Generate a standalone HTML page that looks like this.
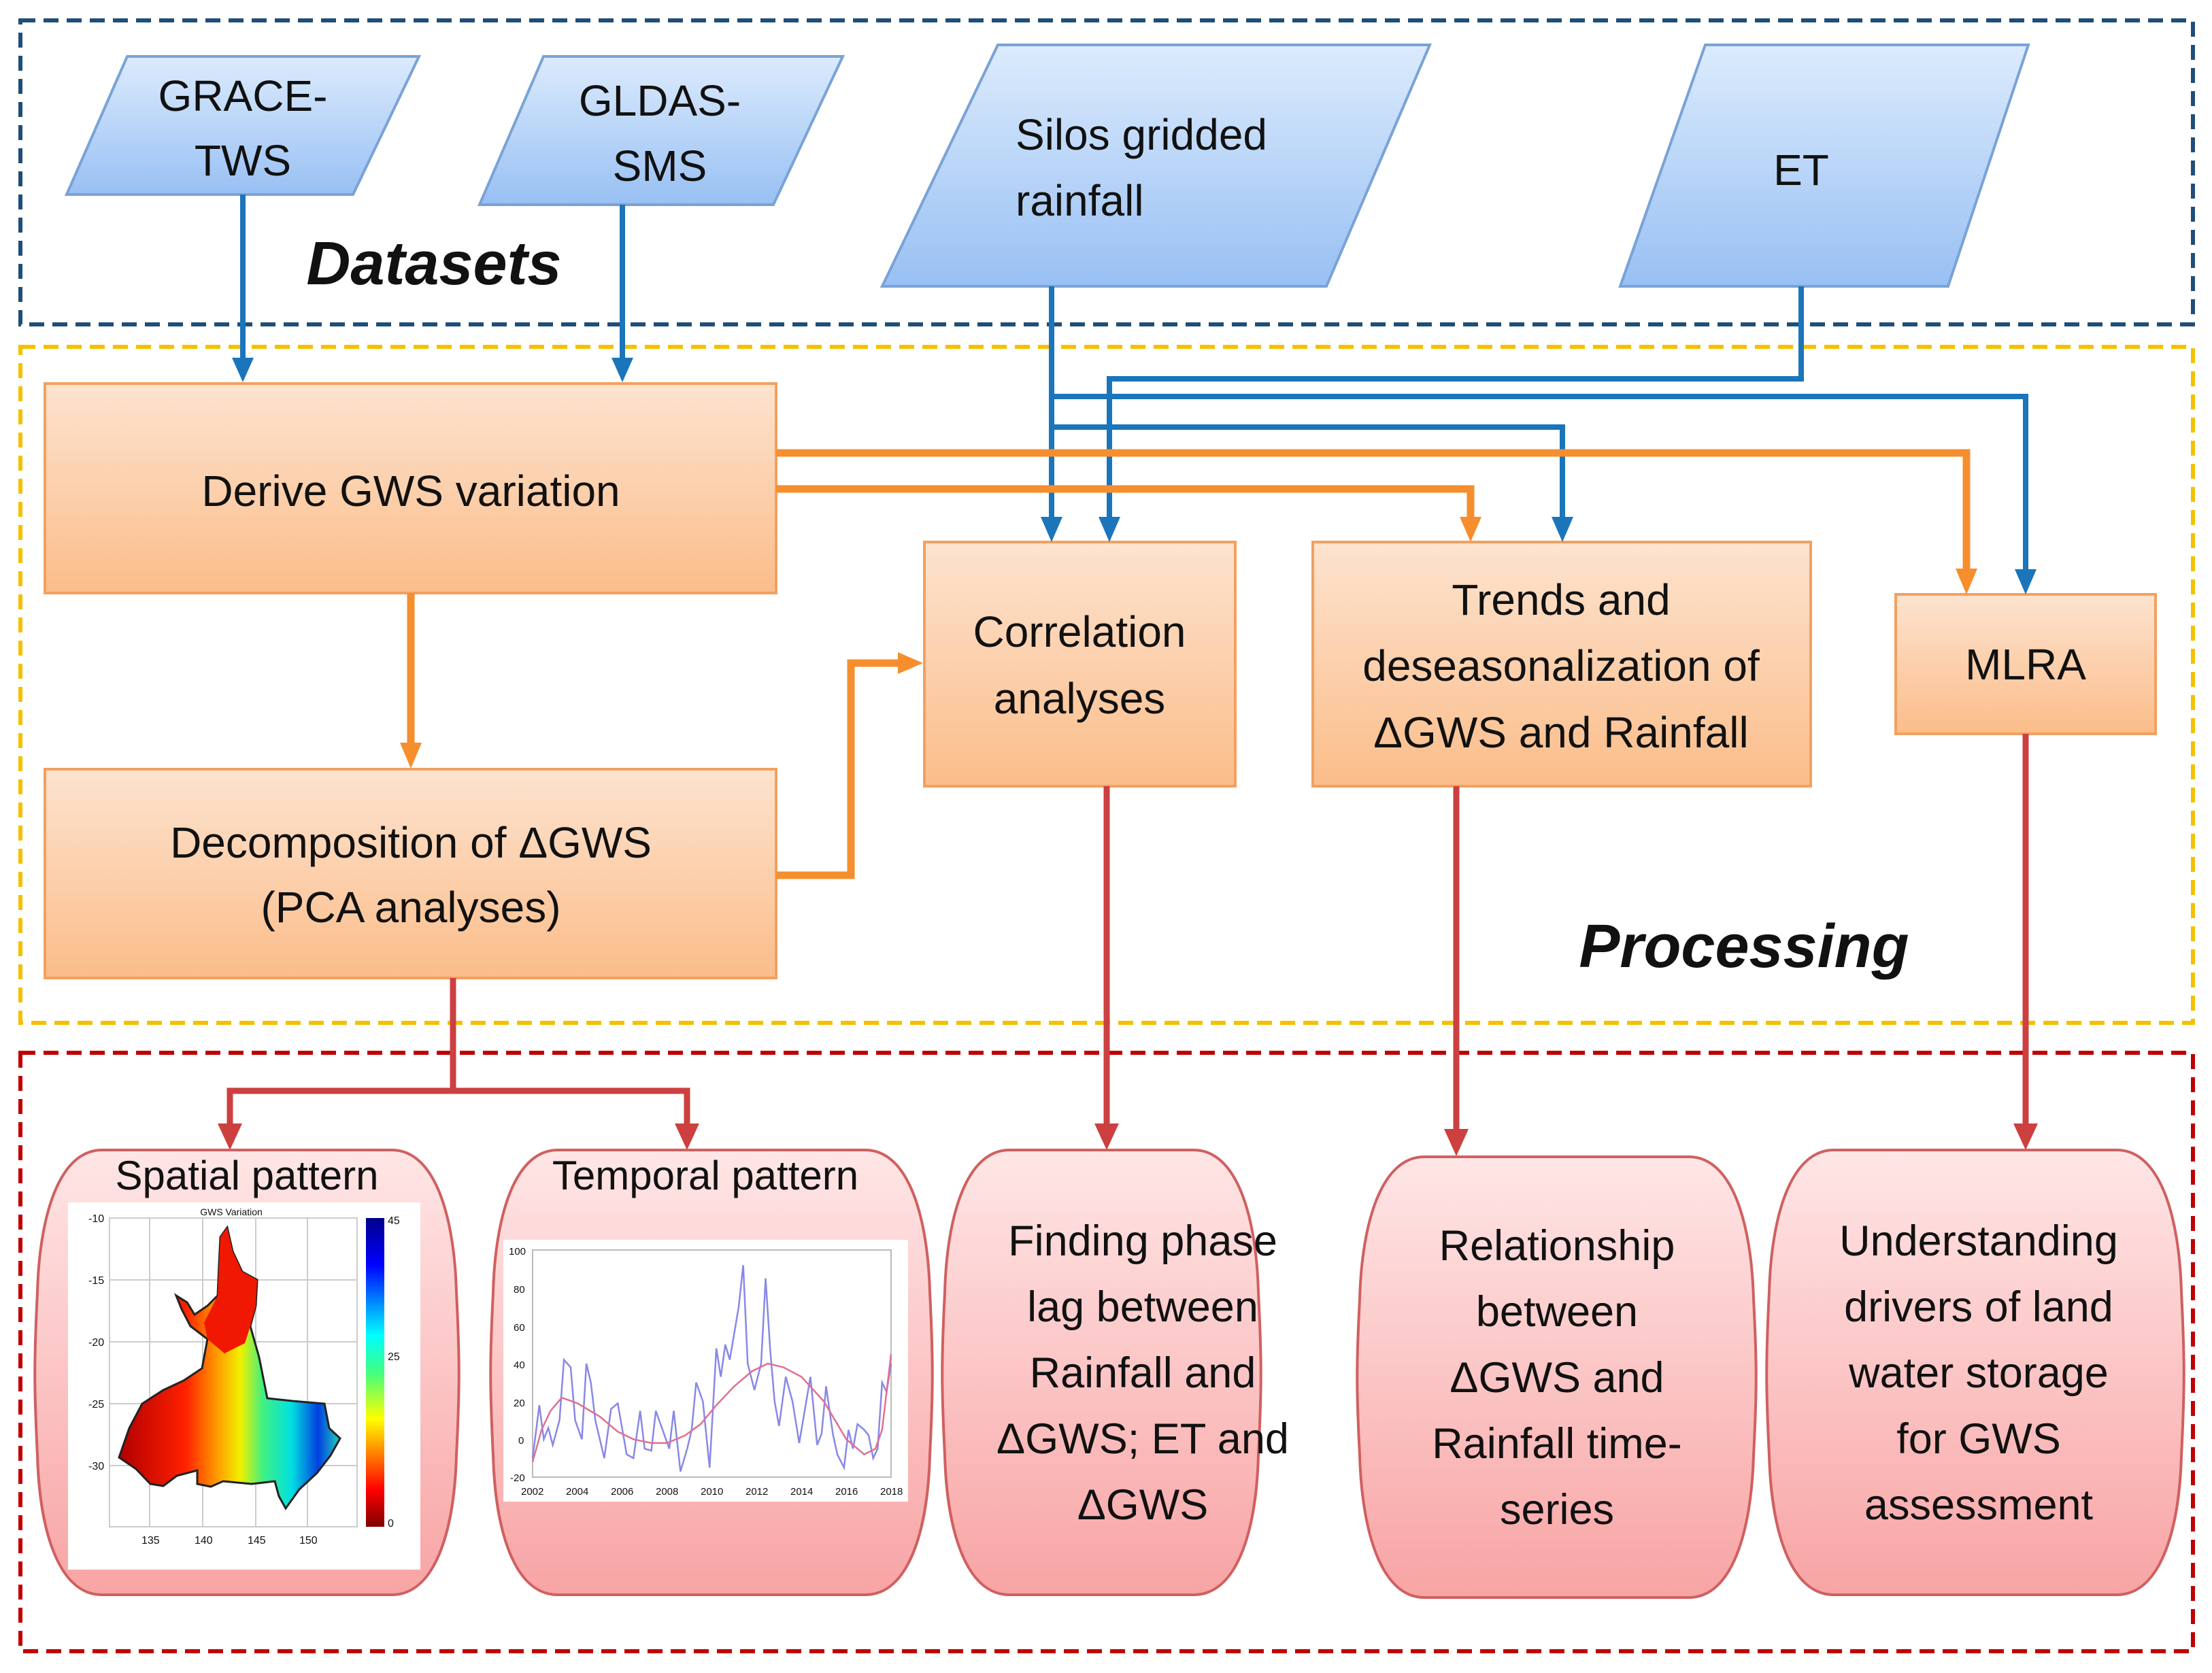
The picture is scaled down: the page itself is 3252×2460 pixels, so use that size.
<!DOCTYPE html>
<html><head><meta charset="utf-8"><style>
html,body{margin:0;padding:0;background:#fff;}
svg{display:block;}
text{font-family:"Liberation Sans",sans-serif;fill:#111;}
</style></head><body>
<svg width="3252" height="2460" viewBox="0 0 3252 2460" xmlns="http://www.w3.org/2000/svg">
<defs>
<linearGradient id="gb" x1="0" y1="0" x2="0" y2="1"><stop offset="0" stop-color="#dcebfd"/><stop offset="1" stop-color="#98c0f3"/></linearGradient>
<linearGradient id="go" x1="0" y1="0" x2="0" y2="1"><stop offset="0" stop-color="#fde3cf"/><stop offset="1" stop-color="#fbbd8a"/></linearGradient>
<linearGradient id="gp" x1="0" y1="0" x2="0" y2="1"><stop offset="0" stop-color="#ffe6e6"/><stop offset="1" stop-color="#f8a4a4"/></linearGradient>
<linearGradient id="gmap" x1="175" y1="0" x2="500" y2="0" gradientUnits="userSpaceOnUse"><stop offset="0" stop-color="#b00000"/><stop offset="0.3" stop-color="#ff2000"/><stop offset="0.45" stop-color="#ffa000"/><stop offset="0.55" stop-color="#f0f000"/><stop offset="0.65" stop-color="#40f080"/><stop offset="0.78" stop-color="#00e0e0"/><stop offset="0.9" stop-color="#0040e0"/><stop offset="1" stop-color="#20d0c0"/></linearGradient>
<linearGradient id="gcb" x1="0" y1="1" x2="0" y2="0"><stop offset="0" stop-color="#800000"/><stop offset="0.12" stop-color="#ff0000"/><stop offset="0.35" stop-color="#ffff00"/><stop offset="0.5" stop-color="#40ff80"/><stop offset="0.62" stop-color="#00ffff"/><stop offset="0.85" stop-color="#0000ff"/><stop offset="1" stop-color="#00008a"/></linearGradient>
</defs>

<rect x="30" y="30" width="3194" height="447" fill="none" stroke="#1f4e79" stroke-width="6" stroke-dasharray="22,12"/>
<rect x="30" y="510" width="3194" height="994" fill="none" stroke="#f5c000" stroke-width="6" stroke-dasharray="22,12"/>
<rect x="30" y="1548" width="3194" height="880" fill="none" stroke="#c00000" stroke-width="6" stroke-dasharray="22,12"/>

<g fill="url(#gb)" stroke="#7aa3d6" stroke-width="4">
<polygon points="187,83 616,83 519,286 98,286"/>
<polygon points="799,83 1239,83 1137,301 705,301"/>
<polygon points="1467,66 2102,66 1950,421 1297,421"/>
<polygon points="2507,66 2982,66 2864,421 2382,421"/>
</g>
<g font-size="64" text-anchor="middle">
<text x="357" y="163">GRACE-</text><text x="357" y="258">TWS</text>
<text x="970" y="170">GLDAS-</text><text x="970" y="266">SMS</text>
<text x="1493" y="220" text-anchor="start">Silos gridded</text><text x="1493" y="317" text-anchor="start">rainfall</text>
<text x="2648" y="272">ET</text>
</g>
<text x="638" y="418" font-size="90" font-weight="bold" font-style="italic" text-anchor="middle">Datasets</text>
<text x="2564" y="1422" font-size="90" font-weight="bold" font-style="italic" text-anchor="middle">Processing</text>

<g fill="url(#go)" stroke="#f2a060" stroke-width="4">
<rect x="66" y="564" width="1075" height="308"/>
<rect x="66" y="1131" width="1075" height="307"/>
<rect x="1359" y="797" width="457" height="359"/>
<rect x="1930" y="797" width="732" height="359"/>
<rect x="2787" y="874" width="382" height="205"/>
</g>
<g font-size="64" text-anchor="middle">
<text x="604" y="744">Derive GWS variation</text>
<text x="604" y="1261">Decomposition of ΔGWS</text><text x="604" y="1356">(PCA analyses)</text>
<text x="1587" y="951">Correlation</text><text x="1587" y="1049">analyses</text>
<text x="2295" y="904">Trends and</text><text x="2295" y="1001">deseasonalization of</text><text x="2295" y="1099">ΔGWS and Rainfall</text>
<text x="2978" y="999">MLRA</text>
</g>

<g fill="none" stroke="#1b75bb" stroke-width="8">
<path d="M357,286 V530"/>
<path d="M915,301 V530"/>
<path d="M1546,421 V765"/>
<path d="M2648,421 V557 H1631 V765"/>
<path d="M1546,583 H2978 V842"/>
<path d="M1546,628 H2297 V765"/>
</g>
<g fill="#1b75bb">
<polygon points="341,526 373,526 357,562"/>
<polygon points="899,526 931,526 915,562"/>
<polygon points="1530,760 1562,760 1546,797"/>
<polygon points="1615,760 1647,760 1631,797"/>
<polygon points="2281,760 2313,760 2297,797"/>
<polygon points="2962,837 2994,837 2978,874"/>
</g>

<g fill="none" stroke="#f68e2e" stroke-width="11">
<path d="M1141,666 H2891 V840"/>
<path d="M1141,719 H2162 V765"/>
<path d="M604,872 V1095"/>
<path d="M1141,1287 H1251 V975 H1325"/>
</g>
<g fill="#f68e2e">
<polygon points="2875,836 2907,836 2891,874"/>
<polygon points="2146,760 2178,760 2162,797"/>
<polygon points="588,1092 620,1092 604,1130"/>
<polygon points="1320,959 1320,991 1357,975"/>
</g>

<g fill="none" stroke="#cc4040" stroke-width="9">
<path d="M666,1438 V1604"/>
<path d="M338,1655 V1604 H1010 V1655"/>
<path d="M1627,1156 V1655"/>
<path d="M2141,1156 V1663"/>
<path d="M2978,1079 V1655"/>
</g>
<g fill="#cc4040">
<polygon points="320,1652 356,1652 338,1691"/>
<polygon points="992,1652 1028,1652 1010,1691"/>
<polygon points="1609,1652 1645,1652 1627,1691"/>
<polygon points="2123,1660 2159,1660 2141,1700"/>
<polygon points="2960,1652 2996,1652 2978,1691"/>
</g>

<g fill="url(#gp)" stroke="#d06060" stroke-width="4">
<path d="M150,1691 H576 C640,1691 668,1790 671,1900 C676,2000 676,2040 671,2140 C668,2250 640,2345 576,2345 H150 C86,2345 58,2250 55,2140 C50,2040 50,2000 55,1900 C58,1790 86,1691 150,1691 Z"/>
<path d="M820,1691 H1272 C1336,1691 1364,1790 1367,1900 C1372,2000 1372,2040 1367,2140 C1364,2250 1336,2345 1272,2345 H820 C756,2345 728,2250 725,2140 C720,2040 720,2000 725,1900 C728,1790 756,1691 820,1691 Z"/>
<path d="M1484,1691 H1755 C1819,1691 1847,1790 1850,1900 C1855,2000 1855,2040 1850,2140 C1847,2250 1819,2345 1755,2345 H1484 C1420,2345 1392,2250 1389,2140 C1384,2040 1384,2000 1389,1900 C1392,1790 1420,1691 1484,1691 Z"/>
<path d="M2094,1701 H2483 C2547,1701 2575,1800 2578,1910 C2583,2005 2583,2045 2578,2140 C2575,2250 2547,2349 2483,2349 H2094 C2030,2349 2002,2250 1999,2140 C1994,2045 1994,2005 1999,1910 C2002,1800 2030,1701 2094,1701 Z"/>
<path d="M2696,1691 H3112 C3176,1691 3204,1790 3207,1900 C3212,2000 3212,2040 3207,2140 C3204,2250 3176,2345 3112,2345 H2696 C2632,2345 2604,2250 2601,2140 C2596,2040 2596,2000 2601,1900 C2604,1790 2632,1691 2696,1691 Z"/>
</g>
<g font-size="63" text-anchor="middle">
<text x="363" y="1749" font-size="60">Spatial pattern</text>
<text x="1037" y="1749" font-size="60">Temporal pattern</text>
<text x="1680" y="1846">Finding phase</text><text x="1680" y="1943">lag between</text><text x="1680" y="2040">Rainfall and</text><text x="1680" y="2137" textLength="430" lengthAdjust="spacingAndGlyphs">ΔGWS; ET and</text><text x="1680" y="2234">ΔGWS</text>
<text x="2289" y="1853">Relationship</text><text x="2289" y="1950">between</text><text x="2289" y="2047">ΔGWS and</text><text x="2289" y="2144">Rainfall time-</text><text x="2289" y="2241">series</text>
<text x="2909" y="1846">Understanding</text><text x="2909" y="1943">drivers of land</text><text x="2909" y="2040">water storage</text><text x="2909" y="2137">for GWS</text><text x="2909" y="2234">assessment</text>
</g>

<rect x="100" y="1768" width="518" height="540" fill="#fff"/>
<g stroke="#ccc" stroke-width="2" fill="none">
<rect x="161" y="1791" width="364" height="454"/>
<path d="M161,1882 H525 M161,1973 H525 M161,2064 H525 M161,2155 H525 M220,1791 V2245 M298,1791 V2245 M376,1791 V2245 M452,1791 V2245"/>
</g>
<polygon points="334,1805 342,1840 356,1870 378,1882 376,1920 368,1950 381,1996 393,2056 430,2060 477,2064 484,2100 500,2115 486,2140 466,2166 440,2190 420,2218 410,2200 404,2178 370,2182 328,2178 310,2186 290,2182 290,2162 260,2170 240,2185 221,2182 200,2160 175,2143 190,2100 209,2064 240,2044 270,2030 297,2012 305,1969 280,1950 267,1925 259,1905 275,1915 286,1933 305,1920 320,1905 322,1860 324,1819" fill="url(#gmap)" stroke="#222" stroke-width="3"/>
<polygon points="334,1805 342,1840 356,1870 378,1882 376,1920 368,1950 360,1975 330,1990 305,1969 300,1945 320,1905 322,1860 324,1819" fill="#f01800"/>
<rect x="538" y="1791" width="27" height="454" fill="url(#gcb)"/>
<g font-size="16" fill="#555">
<text x="130" y="1797">-10</text><text x="130" y="1888">-15</text><text x="130" y="1979">-20</text><text x="130" y="2070">-25</text><text x="130" y="2161">-30</text>
<text x="208" y="2270">135</text><text x="286" y="2270">140</text><text x="364" y="2270">145</text><text x="440" y="2270">150</text>
<text x="570" y="1800">45</text><text x="570" y="2000">25</text><text x="570" y="2245">0</text>
</g>
<text x="340" y="1787" font-size="14" fill="#333" text-anchor="middle">GWS Variation</text>

<rect x="740" y="1823" width="595" height="385" fill="#fff"/>
<rect x="783" y="1838" width="527" height="334" fill="none" stroke="#bbb" stroke-width="2"/>
<g transform="translate(783,2116.3) scale(32.94,-2.783)" fill="none">
<polyline vector-effect="non-scaling-stroke" stroke="#8888e8" stroke-width="2.5" points="0,-10 0.3,18 0.5,0 0.7,6 0.9,-3 1.2,10 1.4,42 1.7,38 1.9,10 2.2,0 2.4,40 2.6,30 2.8,10 3.2,-10 3.5,16 3.8,19 4.2,-8 4.5,-10 4.8,15 5,-5 5.3,-6 5.5,15 5.8,5 6.1,-5 6.3,15 6.6,-17 6.9,-5 7.1,5 7.3,30 7.6,20 7.9,-15 8.2,48 8.4,33 8.6,50 8.8,42 9.2,70 9.4,92 9.6,40 9.9,26 10.2,40 10.4,85 10.6,48 10.8,20 11,7 11.3,33 11.6,20 11.9,-2 12.1,12 12.4,33 12.7,-3 12.9,3 13.1,28 13.4,3 13.6,-8 13.9,-15 14.1,5 14.3,-5 14.5,8 14.8,5 15,2 15.2,-10 15.4,-5 15.6,30 15.8,25 16,40"/>
<polyline vector-effect="non-scaling-stroke" stroke="#e07090" stroke-width="2.5" points="0,-12 0.4,5 0.8,15 1.3,22 2,19 3,12 3.8,4 4.5,0 5.3,-2 6,-2 6.8,2 7.5,8 8.2,18 9,28 9.8,36 10.5,40 11.2,38 12,33 13,20 14,0 14.8,-8 15.3,-5 15.6,5 16,45"/>
</g>
<g font-size="15" fill="#555">
<text x="748" y="1845">100</text><text x="755" y="1901">80</text><text x="755" y="1957">60</text><text x="755" y="2012">40</text><text x="755" y="2068">20</text><text x="762" y="2123">0</text><text x="750" y="2178">-20</text>
<text x="766" y="2198">2002</text><text x="832" y="2198">2004</text><text x="898" y="2198">2006</text><text x="964" y="2198">2008</text><text x="1030" y="2198">2010</text><text x="1096" y="2198">2012</text><text x="1162" y="2198">2014</text><text x="1228" y="2198">2016</text><text x="1294" y="2198">2018</text>
</g>
</svg>
</body></html>
